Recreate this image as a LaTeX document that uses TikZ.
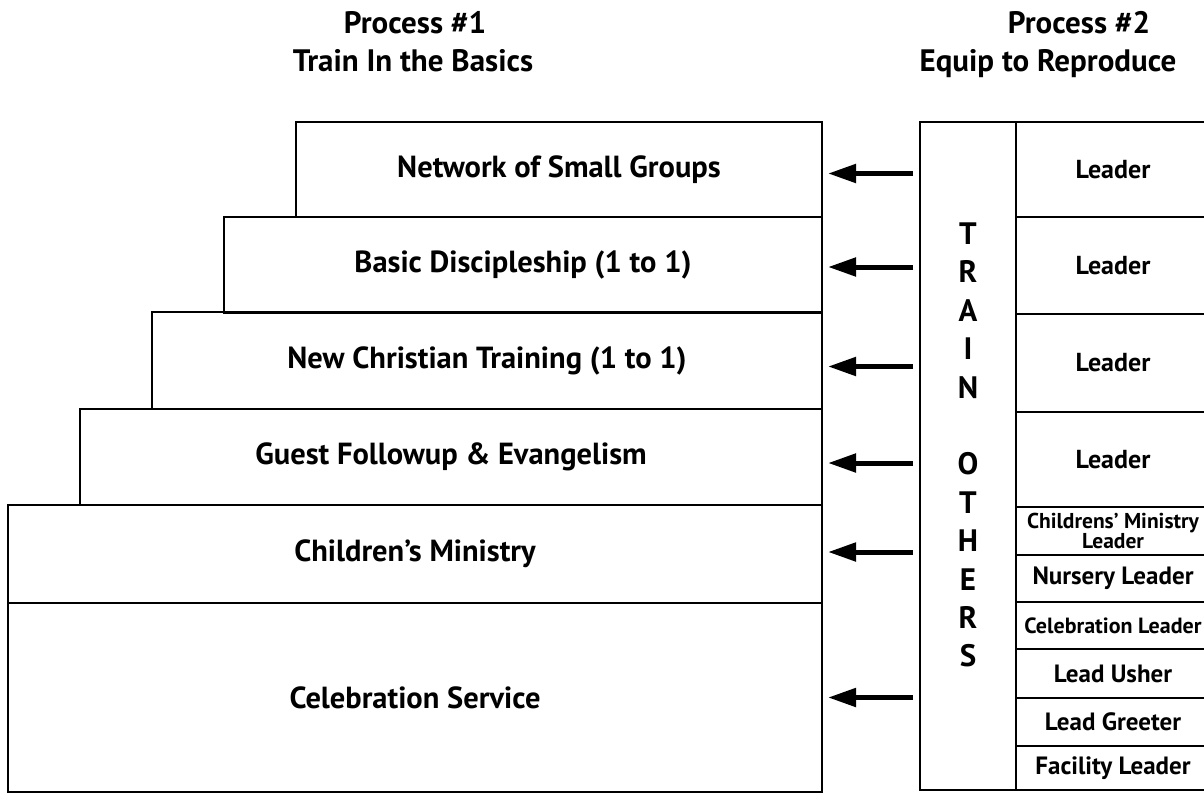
\documentclass[tikz,border=0pt]{standalone}
\usepackage{fontspec}
\setmainfont{PT Sans}
\usetikzlibrary{arrows.meta,calc,positioning}

\newcommand{\headfont}{\fontsize{31}{36}\selectfont\bfseries}
\newcommand{\stepfont}{\fontsize{30.5}{36}\selectfont\bfseries}
\newcommand{\letterfont}{\fontsize{31}{38.4}\selectfont\bfseries}
\newcommand{\rolefont}{\fontsize{25}{28}\selectfont\bfseries}
\newcommand{\leaderfont}{\fontsize{26}{28}\selectfont\bfseries}
\newcommand{\smallrolefont}{\fontsize{21.5}{16.5}\selectfont\bfseries}

\begin{document}
\begin{tikzpicture}[x=1pt,y=-1pt,
  stair/.style={draw,line width=2.5pt,outer sep=0pt,anchor=north east,font=\stepfont},
  column/.style={draw,line width=2.5pt,outer sep=0pt,anchor=north west},
  cell/.style={draw,line width=2.5pt,outer sep=0pt,anchor=north west,minimum width=194pt,inner sep=0pt,align=center,font=\rolefont},
  push/.style={line width=5pt,-{Triangle[length=28pt,width=18pt]}}]

\useasboundingbox (0,0) rectangle (1204,793);

% titles
\node[font=\headfont,anchor=base] (headA) at (415,33) {Process \#1};
\node[font=\headfont,anchor=base] (headB) at (413,71) {Train In the Basics};
\node[font=\headfont,anchor=base] (headC) at (1079,33) {Process \#2};
\node[font=\headfont,anchor=base] (headD) at (1048,71) {Equip to Reproduce};

% process 1 steps
\node[stair,minimum width=526pt,minimum height=95pt] (groups) at (822,122) {Network of Small Groups};
\node[stair,minimum width=598pt,minimum height=96pt] (basic) at (822,217) {Basic Discipleship (1 to 1)};
\node[stair,minimum width=670pt,minimum height=97pt] (newchr) at (822,312) {New Christian Training (1 to 1)};
\node[stair,minimum width=742pt,minimum height=96pt] (guest) at (822,409) {Guest Followup \& Evangelism};
\node[stair,minimum width=814pt,minimum height=98pt] (kids) at (822,505) {Children’s Ministry};
\node[stair,minimum width=814pt,minimum height=189pt] (celeb) at (822,603) {Celebration Service};

% process 2
\node[column,minimum width=96pt,minimum height=668pt] (train) at (920,122) {};
\node[font=\letterfont,align=center] (letters) at ([yshift=11pt]train.center) {T\\R\\A\\I\\N\\[38.4pt]O\\T\\H\\E\\R\\S};

\node[cell,minimum height=95pt,font=\leaderfont] (lead1) at (1016,122) {Leader};
\node[cell,minimum height=97pt,font=\leaderfont] (lead2) at (1016,217) {Leader};
\node[cell,minimum height=98pt,font=\leaderfont] (lead3) at (1016,314) {Leader};
\node[cell,minimum height=95pt,font=\leaderfont] (lead4) at (1016,412) {Leader};
\node[cell,minimum height=48pt,font=\smallrolefont] (kidslead) at (1016,507) {Childrens’ Ministry\\Leader};
\node[cell,minimum height=47pt] (nursery) at (1016,555) {Nursery Leader};
\node[cell,minimum height=47pt,font=\fontsize{22}{26}\selectfont\bfseries] (celeblead) at (1016,602) {Celebration Leader};
\node[cell,minimum height=49pt] (usher) at (1016,649) {Lead Usher};
\node[cell,minimum height=48pt] (greeter) at (1016,698) {Lead Greeter};
\node[cell,minimum height=44pt] (facility) at (1016,746) {Facility Leader};

% train others -> steps
\draw[push] ($(train.west |- groups.east)+(-7,4)$) -- ($(groups.east)+(6,4)$);
\draw[push] ($(train.west |- basic.east)+(-7,2)$) -- ($(basic.east)+(6,2)$);
\draw[push] ($(train.west |- newchr.east)+(-7,6)$) -- ($(newchr.east)+(6,6)$);
\draw[push] ($(train.west |- guest.east)+(-7,6)$) -- ($(guest.east)+(6,6)$);
\draw[push] ($(train.west |- kids.east)+(-7,-2)$) -- ($(kids.east)+(6,-2)$);
\draw[push] ($(train.west |- celeb.east)+(-7,0)$) -- ($(celeb.east)+(6,0)$);

\end{tikzpicture}
\end{document}
